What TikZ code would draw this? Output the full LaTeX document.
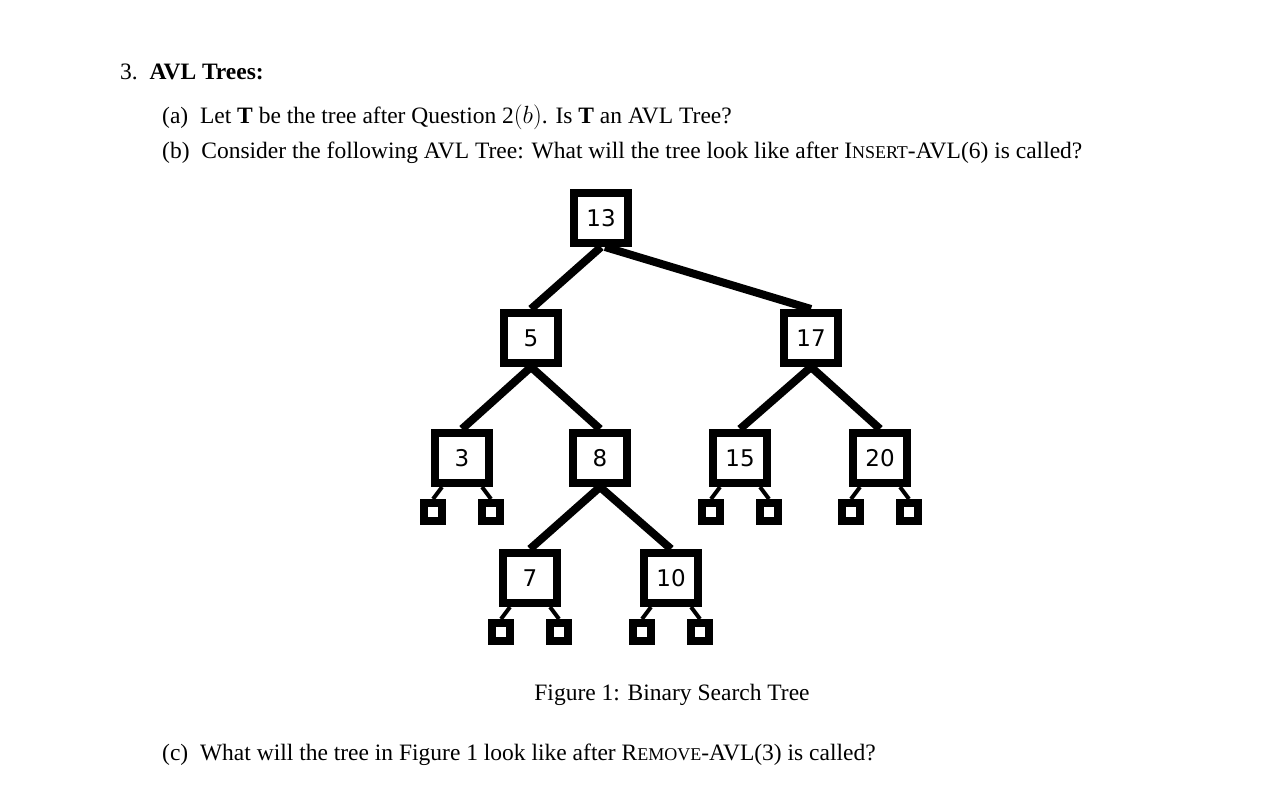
\documentclass[tikz,border=0pt]{standalone}
\usepackage{fontspec}
\setmainfont{Liberation Serif}
\newfontfamily\nodefont{DejaVu Sans}
\usetikzlibrary{calc}
\newcommand{\fsc}[1]{{\fontsize{18}{20}\selectfont #1}}
\begin{document}
\begin{tikzpicture}[x=1pt,y=-1pt,
  bst/.style={draw,line width=8pt,minimum width=54pt,minimum height=50pt,inner sep=0pt,font=\nodefont\fontsize{23}{23}\selectfont},
  leaf/.style={draw,line width=8pt,minimum size=18pt,inner sep=0pt},
  edge/.style={line width=8pt},
  ledge/.style={line width=4pt},
  txt/.style={anchor=base west,inner sep=0pt,font=\fontsize{23.5}{27}\selectfont}]
\useasboundingbox (0,0) rectangle (1286,786);
\node[txt] (t0) at (120,80) {3.\ \ \textbf{AVL Trees:}};
\node[txt] (ta) at (162,124) {(a)\ \ Let $\mathbf{T}$ be the tree after Question 2$(b)$. Is $\mathbf{T}$ an AVL Tree?};
\node[txt] (tb) at (162,159) {(b)\ \ Consider the following AVL Tree: What will the tree look like after I\fsc{NSERT}-AVL(6) is called?};
\node[txt,anchor=base] (cap) at (672,700) {Figure 1: Binary Search Tree};
\node[txt] (tc) at (162,760) {(c)\ \ What will the tree in Figure 1 look like after R\fsc{EMOVE}-AVL(3) is called?};

\node[bst] (n13) at (601,218) {13};
\node[bst] (n5) at (531,338) {5};
\node[bst] (n17) at (811,338) {17};
\node[bst] (n3) at (462,458) {3};
\node[bst] (n8) at (600,458) {8};
\node[bst] (n15) at (740,458) {15};
\node[bst] (n20) at (880,458) {20};
\node[bst] (n7) at (530,578) {7};
\node[bst] (n10) at (671,578) {10};
\draw[edge] (n13.south) -- (n5.north);
\draw[edge] ($(n13.south)+(4,0)$) -- (n17.north);
\draw[edge] (n5.south) -- (n3.north);
\draw[edge] (n5.south) -- (n8.north);
\draw[edge] (n17.south) -- (n15.north);
\draw[edge] (n17.south) -- (n20.north);
\draw[edge] (n8.south) -- (n7.north);
\draw[edge] (n8.south) -- (n10.north);
\foreach \p/\i in {n3/a,n15/b,n20/c,n7/d,n10/e}{
  \node[leaf] (\i L) at ($(\p)+(-29,54)$) {};
  \node[leaf] (\i R) at ($(\p)+(29,54)$) {};
  \draw[ledge] ($(\p.south)+(-20,0)$) -- (\i L.north);
  \draw[ledge] ($(\p.south)+(20,0)$) -- (\i R.north);
}
\end{tikzpicture}
\end{document}
